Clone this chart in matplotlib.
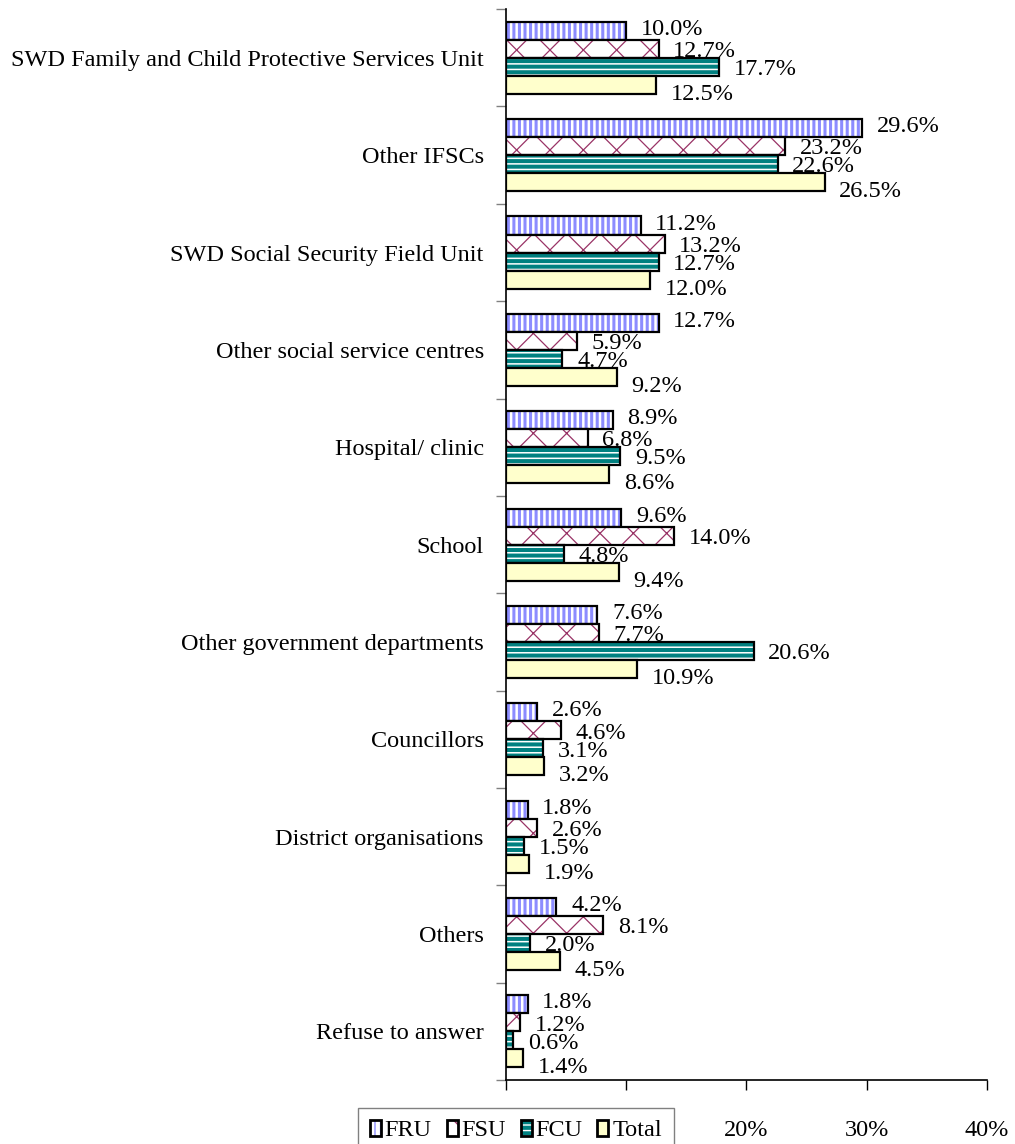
import matplotlib
matplotlib.use('Agg')
import matplotlib.pyplot as plt
from matplotlib.patches import Patch
from matplotlib.legend_handler import HandlerTuple
import numpy as np

plt.rcParams['font.family'] = ['Liberation Serif', 'DejaVu Serif']

categories = ['SWD Family and Child Protective Services Unit', 'Other IFSCs',
              'SWD Social Security Field Unit', 'Other social service centres',
              'Hospital/ clinic', 'School', 'Other government departments',
              'Councillors', 'District organisations', 'Others', 'Refuse to answer']
series_names = ['FRU', 'FSU', 'FCU', 'Total']
fru = [10.0, 29.6, 11.2, 12.7, 8.9, 9.6, 7.6, 2.6, 1.8, 4.2, 1.8]
fsu = [12.7, 23.2, 13.2, 5.9, 6.8, 14.0, 7.7, 4.6, 2.6, 8.1, 1.2]
fcu = [17.7, 22.6, 12.7, 4.7, 9.5, 4.8, 20.6, 3.1, 1.5, 2.0, 0.6]
total = [12.5, 26.5, 12.0, 9.2, 8.6, 9.4, 10.9, 3.2, 1.9, 4.5, 1.4]
x_ticks = [0, 10, 20, 30, 40]

# face colour, hatch colour, hatch pattern, hatch width, label y shift (pt, + = down)
styles = [
    ('white', '#8c8cff', '|||', 2.2, -1),
    ('white', '#993366', 'x', 0.9, 2),
    ('#008080', 'white', '---', 1.1, 2),
    ('#ffffcc', '#ffffcc', None, 1.0, 7),
]
values = [fru, fsu, fcu, total]

fig = plt.figure(figsize=(10.15, 11.44), dpi=100)
ax = fig.add_axes([0.4985, 0.056, 0.4739, 0.936])

y = np.arange(len(categories))
h = 0.185
handles = []
for k, (vals, (face, hcol, hatch, hlw, dy)) in enumerate(zip(values, styles)):
    pos = y - 1.5 * h + k * h
    with plt.rc_context({'hatch.linewidth': hlw}):
        ax.barh(pos, vals, height=h, color=face, edgecolor=hcol, hatch=hatch, linewidth=0)
        ax.barh(pos, vals, height=h, fill=False, edgecolor='black', linewidth=1.6)
        p1 = Patch(facecolor=face, edgecolor=hcol, hatch=hatch, linewidth=0)
    p2 = Patch(fill=False, edgecolor='black', linewidth=2.0)
    handles.append((p1, p2))
    for yy, v in zip(pos, vals):
        ax.annotate(f'{v:.1f}%', (v, yy), xytext=(10.5, -dy), textcoords='offset points',
                    ha='left', va='center', fontsize=17.5)

ax.set_ylim(len(categories) - 0.5, -0.5)
ax.set_xlim(0, 40)
ax.set_xticks(x_ticks)
ax.set_xticklabels([f'{t}%' for t in x_ticks], fontsize=17.5)
ax.tick_params(axis='x', direction='out', length=7, width=1, pad=22)

ax.set_yticks(y)
ax.set_yticklabels(categories, fontsize=17.5)
ax.tick_params(axis='y', which='major', length=0, pad=16)
ax.set_yticks(np.arange(len(categories) + 1) - 0.5, minor=True)
ax.tick_params(axis='y', which='minor', direction='out', length=7, width=1, color='#808080')

for s in ['top', 'right']:
    ax.spines[s].set_visible(False)
for s in ['left', 'bottom']:
    ax.spines[s].set_linewidth(1.2)

leg = fig.legend(handles, series_names, loc='upper left',
                 bbox_to_anchor=(358 / 1015, 1 - 1108 / 1144), ncol=4,
                 handler_map={tuple: HandlerTuple(ndivide=1, pad=0)},
                 handlelength=0.45, handleheight=0.6, handletextpad=0.15,
                 columnspacing=0.62, fontsize=17.5, frameon=True, fancybox=False,
                 framealpha=1, borderpad=0.5, borderaxespad=0)
leg.get_frame().set_edgecolor('#808080')
leg.get_frame().set_linewidth(1.0)

fig.savefig('out.png', dpi=100)
